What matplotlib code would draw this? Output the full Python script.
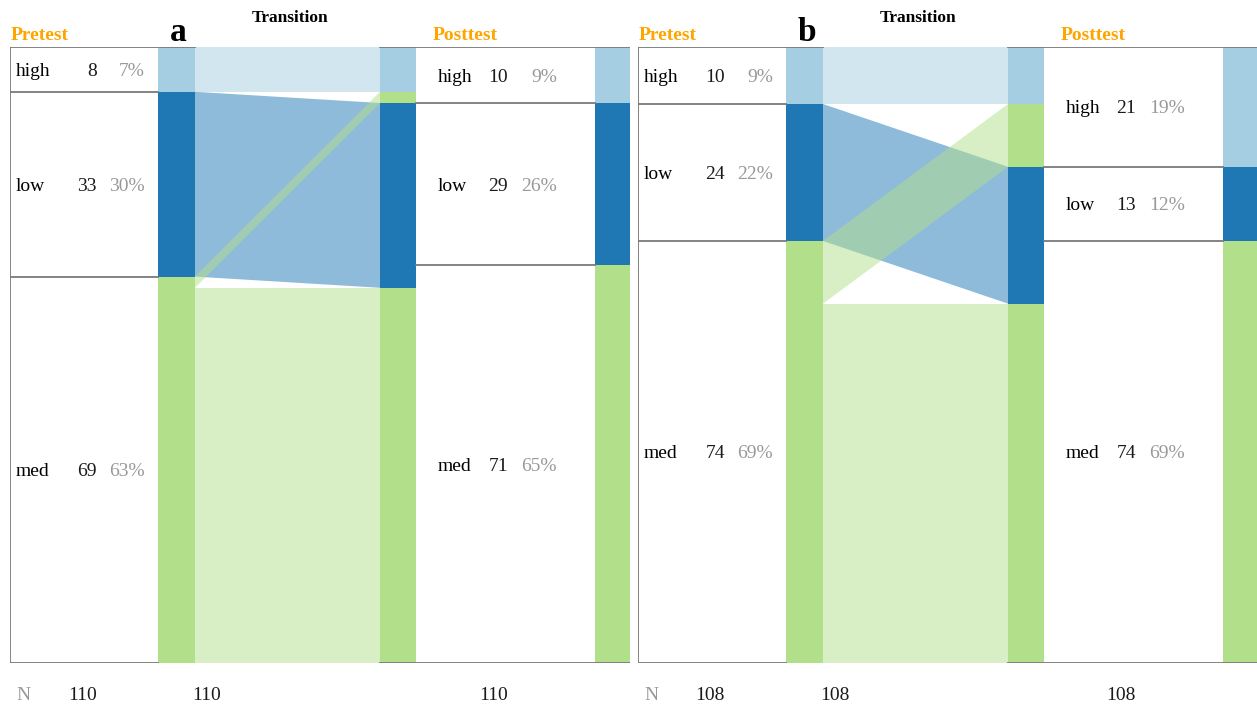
import numpy as np
import matplotlib
matplotlib.use("Agg")
import matplotlib.pyplot as plt
from matplotlib.patches import Rectangle, Polygon

plt.rcParams['font.family'] = ['Liberation Serif', 'DejaVu Serif']

categories = ["high", "low", "med"]
colors = {"high": "#a6cee3", "low": "#1f78b4", "med": "#b2df8a"}

# flows[src][dest], order high, low, med
flows_a = [[8, 0, 0],
           [0, 29, 4],
           [2, 0, 67]]
pre_pct_a = ["7%", "30%", "63%"]
post_pct_a = ["9%", "26%", "65%"]

flows_b = [[10, 0, 0],
           [0, 13, 11],
           [11, 0, 63]]
pre_pct_b = ["9%", "22%", "69%"]
post_pct_b = ["19%", "12%", "69%"]

# layout in pixel units relative to the panel's left edge
TABLE1 = (0, 148)
BAR1 = (148, 185)
BAR2 = (370, 406)
TABLE2 = (406, 585)
BAR3 = (585, 620)
LINE = "#7a7a7a"
GREY = "#999999"
ORANGE = "#FFA500"
FS = 14


def draw_panel(ax, flows, pre_pct, post_pct, letter):
    flows = np.array(flows)
    pre = flows.sum(axis=1)
    post = flows.sum(axis=0)
    N = pre.sum()
    ax.set_xlim(0, 620)
    ax.set_ylim(N, 0)
    ax.axis("off")
    xt = ax.get_xaxis_transform()

    # frame lines
    ax.plot([0, BAR1[1]], [0, 0], color=LINE, lw=1.3, zorder=1)
    ax.plot([BAR2[0], BAR3[1]], [0, 0], color=LINE, lw=1.3, zorder=1)
    ax.plot([0, BAR1[0]], [N, N], color=LINE, lw=1.3, zorder=1)
    ax.plot([BAR2[0], BAR3[1]], [N, N], color=LINE, lw=1.3, zorder=1)
    ax.plot([0, 0], [0, N], color=LINE, lw=1.3, zorder=1)

    # pretest bar + table
    cum = np.concatenate([[0], np.cumsum(pre)])
    for i, c in enumerate(categories):
        ax.add_patch(Rectangle((BAR1[0], cum[i]), BAR1[1] - BAR1[0], pre[i],
                               facecolor=colors[c], edgecolor="none", zorder=0))
        if i > 0:
            ax.plot([TABLE1[0], TABLE1[1]], [cum[i], cum[i]], color=LINE, lw=1.3, zorder=1)
        ym = (cum[i] + cum[i + 1]) / 2
        ax.text(TABLE1[0] + 6, ym, c, fontsize=FS, va="center_baseline", ha="left")
        ax.text(TABLE1[0] + 87, ym, str(pre[i]), fontsize=FS, va="center_baseline", ha="right",
                color="#1a1a1a")
        ax.text(TABLE1[0] + 135, ym, pre_pct[i], fontsize=FS, va="center_baseline", ha="right", color=GREY)

    # posttest bar + table
    cum2 = np.concatenate([[0], np.cumsum(post)])
    for j, c in enumerate(categories):
        ax.add_patch(Rectangle((BAR3[0], cum2[j]), BAR3[1] - BAR3[0], post[j],
                               facecolor=colors[c], edgecolor="none", zorder=0))
        if j > 0:
            ax.plot([TABLE2[0], TABLE2[1]], [cum2[j], cum2[j]], color=LINE, lw=1.3, zorder=1)
        ym = (cum2[j] + cum2[j + 1]) / 2
        ax.text(TABLE2[0] + 22, ym, c, fontsize=FS, va="center_baseline", ha="left")
        ax.text(TABLE2[0] + 92, ym, str(post[j]), fontsize=FS, va="center_baseline", ha="right",
                color="#1a1a1a")
        ax.text(TABLE2[0] + 141, ym, post_pct[j], fontsize=FS, va="center_baseline", ha="right", color=GREY)

    # flow positions: left side ordered by source, right side ordered by destination
    left_pos = {}
    y = 0
    for i in range(3):
        for j in range(3):
            left_pos[(i, j)] = y
            y += flows[i, j]
    right_pos = {}
    y = 0
    for j in range(3):
        for i in range(3):
            right_pos[(i, j)] = y
            v = flows[i, j]
            if v > 0:
                ax.add_patch(Rectangle((BAR2[0], y), BAR2[1] - BAR2[0], v,
                                       facecolor=colors[categories[i]], edgecolor="none", zorder=0))
            y += v

    # ribbons drawn per source; contiguous pieces merged into one band
    for i in range(3):
        bands = []
        for j in range(3):
            v = flows[i, j]
            if v == 0:
                continue
            l0, r0 = left_pos[(i, j)], right_pos[(i, j)]
            if bands and bands[-1][1] == l0 and bands[-1][3] == r0:
                bands[-1][1] += v
                bands[-1][3] += v
            else:
                bands.append([l0, l0 + v, r0, r0 + v])
        for l0, l1, r0, r1 in bands:
            ax.add_patch(Polygon([(BAR1[1], l0), (BAR2[0], r0), (BAR2[0], r1), (BAR1[1], l1)],
                                 closed=True, facecolor=colors[categories[i]], alpha=0.5,
                                 edgecolor="none", zorder=0.5))

    # headers
    ax.text(TABLE1[0] + 1, 1.018, "Pretest", transform=xt, fontsize=FS, fontweight="bold",
            color=ORANGE, ha="left", va="center")
    ax.text(TABLE2[0] + 17, 1.018, "Posttest", transform=xt, fontsize=FS, fontweight="bold",
            color=ORANGE, ha="left", va="center")
    ax.text((BAR1[1] + BAR2[0]) / 2 + 2, 1.047, "Transition", transform=xt, fontsize=12.5,
            fontweight="bold", ha="center", va="center")
    ax.text((BAR1[0] + BAR1[1]) / 2 + 2, 1.024, letter, transform=xt, fontsize=24,
            fontweight="bold", ha="center", va="center")

    # N row
    ax.text(TABLE1[0] + 6, -0.052, "N", transform=xt, fontsize=FS, color=GREY, ha="left", va="center")
    ax.text(TABLE1[0] + 87, -0.052, str(N), transform=xt, fontsize=FS, ha="right", va="center",
            color="#1a1a1a")
    ax.text(BAR1[1] - 3, -0.052, str(N), transform=xt, fontsize=FS, ha="left", va="center",
            color="#1a1a1a")
    ax.text(TABLE2[0] + 92, -0.052, str(N), transform=xt, fontsize=FS, ha="right", va="center",
            color="#1a1a1a")


fig = plt.figure(figsize=(12.57, 7.07), dpi=100)
W, H = 1257, 707
ax_a = fig.add_axes([10 / W, (H - 663) / H, 620 / W, 616 / H])
ax_b = fig.add_axes([638 / W, (H - 663) / H, 620 / W, 616 / H])
draw_panel(ax_a, flows_a, pre_pct_a, post_pct_a, "a")
draw_panel(ax_b, flows_b, pre_pct_b, post_pct_b, "b")
fig.savefig("out.png", dpi=100)
